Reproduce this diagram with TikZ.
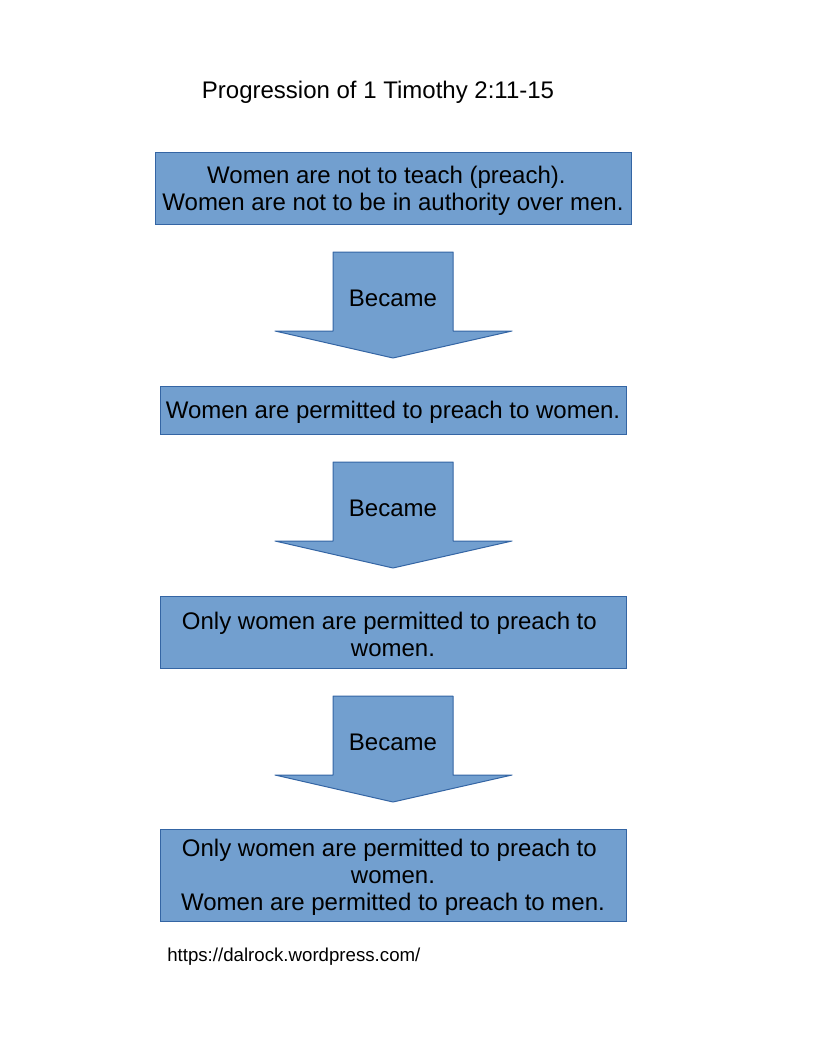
\documentclass[tikz,border=0pt]{standalone}
\usepackage{fontspec}
\setmainfont{Liberation Sans}
\definecolor{boxfill}{HTML}{729FCF}
\definecolor{boxline}{HTML}{3465A4}
\begin{document}
\begin{tikzpicture}[x=0.75pt,y=-0.75pt,
  box/.style={draw=boxline,fill=boxfill,line width=0.75pt,inner sep=0pt},
  boxtext/.style={inner sep=0pt,align=center,yshift=-1.9pt,
    font=\fontsize{18}{20.25}\selectfont},
  blockarrow/.style={draw=boxline,fill=boxfill,line width=0.75pt,line join=round},
  arrowlabel/.style={font=\fontsize{18}{20.25}\selectfont,inner sep=0pt},
  title/.style={font=\fontsize{18}{20.25}\selectfont,inner sep=0pt,anchor=base},
  url/.style={font=\fontsize{14}{16}\selectfont,inner sep=0pt,anchor=base west}]
\useasboundingbox[fill=white] (0,0) rectangle (816,1056);
\node[title] (title) at (378,98.5) {Progression of 1 Timothy 2:11-15};
\node[box,minimum width=357pt,minimum height=54pt] (b1) at (393,188) {};
\node[boxtext] (t1) at (b1.center)
  {Women are not to teach (preach).\hspace*{0.55em}\\Women are not to be in authority over men.};
\node[box,minimum width=349.5pt,minimum height=36pt] (b2) at (393,410) {};
\node[boxtext] (t2) at (b2.center) {Women are permitted to preach to women.};
\node[box,minimum width=349.5pt,minimum height=54pt] (b3) at (393,632) {};
\node[boxtext] (t3) at (b3.center)
  {Only women are permitted to preach to\hspace*{0.3em}\\women.};
\node[box,minimum width=349.5pt,minimum height=69pt] (b4) at (393,875) {};
\node[boxtext] (t4) at (b4.center)
  {Only women are permitted to preach to\hspace*{0.3em}\\women.\\Women are permitted to preach to men.};
\foreach \y/\n in {252/a1,462/a2,696/a3}{
  \begin{scope}[shift={(0,\y)}]
    \draw[blockarrow] (333,0) -- (453,0) -- (453,79) -- (512,79) -- (393,106)
      -- (275,79) -- (333,79) -- cycle;
    \node[arrowlabel] (\n) at (393,46) {Became};
  \end{scope}
}
\node[url] (url) at (167,961.5) {https://dalrock.wordpress.com/};
\end{tikzpicture}
\end{document}
